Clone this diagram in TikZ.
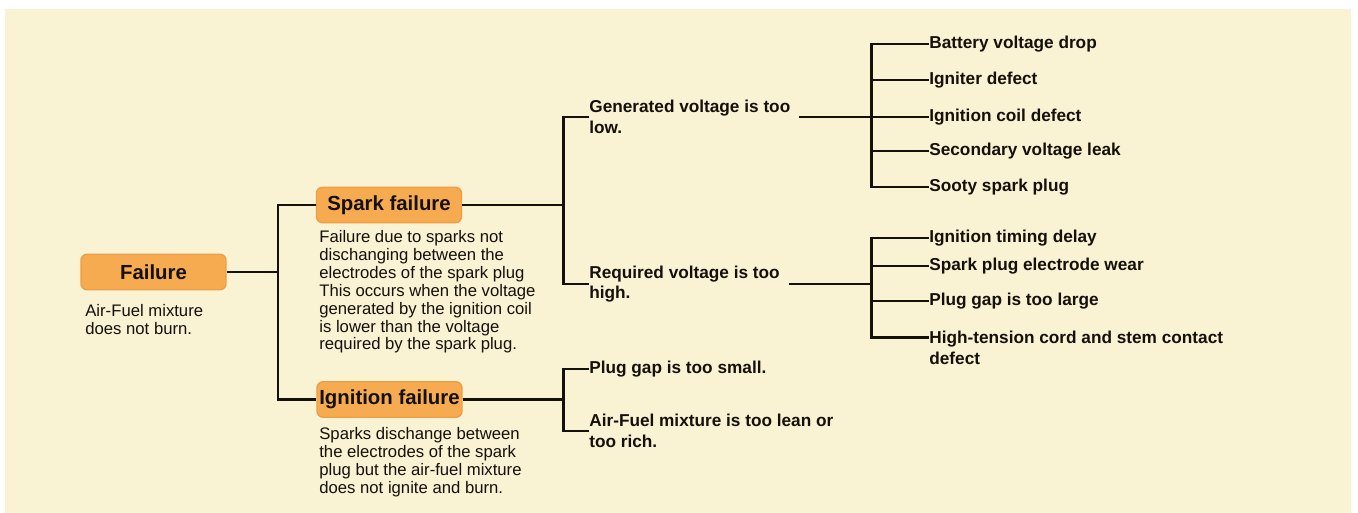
\documentclass[tikz,border=0pt]{standalone}
\usepackage{fontspec}
\setmainfont{Liberation Sans}
\usetikzlibrary{positioning,calc}
\definecolor{clrBg}{RGB}{249,242,211}
\definecolor{clrBox}{RGB}{247,171,80}
\definecolor{clrEdge}{RGB}{238,158,66}
\definecolor{clrInk}{RGB}{20,16,10}
\tikzset{
  failbox/.style={rectangle,rounded corners=3.5pt,draw=clrEdge,fill=clrBox,line width=0.8pt,
    font=\fontsize{11.6}{13}\selectfont\bfseries,text=clrInk,
    minimum width=2.9cm,minimum height=0.71cm,inner sep=0pt},
  desc/.style={font=\fontsize{9.5}{10.2}\selectfont,text=clrInk,align=left,
    inner sep=0pt,anchor=north west},
  cause/.style={font=\fontsize{9.8}{11.8}\selectfont\bfseries,text=clrInk,align=left,
    inner sep=0pt,anchor=west},
  link/.style={line width=1.7pt,color=clrInk}
}

\begin{document}
\begin{tikzpicture}[x=0.02cm,y=-0.02cm]
  \useasboundingbox (0,0) rectangle (1358,513);
  \fill[clrBg] (5,9) rectangle (1351,513);
  % failure modes
  \node[failbox] (fail) at (153.5,272) {Failure};
  \node[desc] (faild) at (85,304) {Air-Fuel mixture\\does not burn.};
  \node[failbox] (spark) at (389,205) {Spark failure};
  \node[desc] (sparkd) at (319,230)
    {Failure due to sparks not\\dischanging between the\\electrodes of the spark plug\\This occurs when the voltage\\generated by the ignition coil\\is lower than the voltage\\required by the spark plug.};
  \node[failbox] (ign) at (389.5,399.5) {Ignition failure};
  \node[desc] (ignd) at (319,427)
    {Sparks dischange between\\the electrodes of the spark\\plug but the air-fuel mixture\\does not ignite and burn.};
  % causes
  \node[cause] (gen) at (589,117) {Generated voltage is too\\low.};
  \node[cause] (req) at (589,284) {Required voltage is too\\high.};
  \node[cause] (small) at (589,369) {Plug gap is too small.};
  \node[cause] (lean) at (589,431) {Air-Fuel mixture is too lean or\\too rich.};
  \node[cause] (batt) at (929,44) {Battery voltage drop};
  \node[cause] (igd) at (929,80) {Igniter defect};
  \node[cause] (coil) at (929,117) {Ignition coil defect};
  \node[cause] (leak) at (929,151) {Secondary voltage leak};
  \node[cause] (soot) at (929,187) {Sooty spark plug};
  \node[cause] (timing) at (929,238) {Ignition timing delay};
  \node[cause] (wear) at (929,266) {Spark plug electrode wear};
  \node[cause] (large) at (929,301) {Plug gap is too large};
  \node[cause] (cord) at (929,348) {High-tension cord and stem contact\\defect};
  \coordinate (jFail) at (278,272);
  \coordinate (jSpark) at (563,205);
  \coordinate (jIgn) at (563,399.5);
  \coordinate (jGen) at (871,117);
  \coordinate (jReq) at (871,284);
  % tree lines
  \draw[link] (fail.east) -- (jFail);
  \draw[link] (spark.west) -| (jFail) |- (ign.west);
  \draw[link] (spark.east) -- (jSpark);
  \draw[link] (gen.west) -| (jSpark) |- (req.west);
  \draw[link] (ign.east) -- (jIgn);
  \draw[link] (small.west) -| (jIgn) |- (lean.west);
  \draw[link] ([xshift=5pt]gen.east) -- (jGen);
  \draw[link] ([xshift=5pt]req.east) -- (jReq);
  \draw[link] (batt.west) -| (jGen) |- (soot.west);
  \draw[link] (jGen |- igd.west) -- (igd.west);
  \draw[link] (jGen |- coil.west) -- (coil.west);
  \draw[link] (jGen |- leak.west) -- (leak.west);
  \draw[link] (timing.west) -| (jReq) |- ([yshift=5.7pt]cord.west);
  \draw[link] (jReq |- wear.west) -- (wear.west);
  \draw[link] (jReq |- large.west) -- (large.west);
\end{tikzpicture}
\end{document}
